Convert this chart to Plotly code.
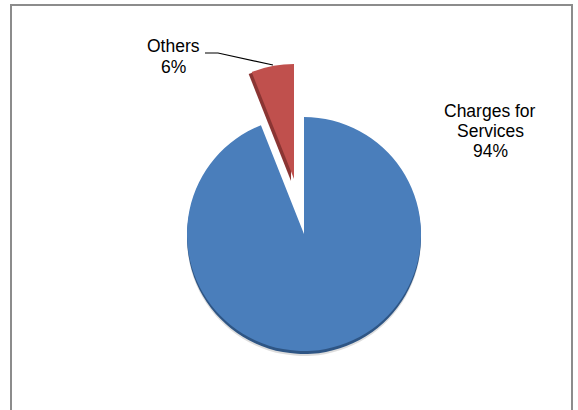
import plotly.graph_objects as go

# ---- data ----
categories = ["Charges for Services", "Others"]
label_lines = [["Charges for", "Services"], ["Others"]]
values = [94, 6]
colors = ["#4a7ebb", "#c0504d"]
shadow_colors = ["#2e5584", "#8a3533"]

W, H = 578, 410
total = sum(values)
pcts = [round(v / total * 100) for v in values]


def px_domain(cx, cy, r):
    return dict(x=[(cx - r) / W, (cx + r) / W],
                y=[1 - (cy + r) / H, 1 - (cy - r) / H])


def slice_trace(idx, cx, cy, r, col):
    cols = ["rgba(0,0,0,0)"] * len(values)
    cols[idx] = col
    return go.Pie(values=values, labels=categories, sort=False,
                  direction="clockwise", rotation=0,
                  marker=dict(colors=cols, line=dict(width=0)),
                  textinfo="none", hoverinfo="skip", showlegend=False,
                  domain=px_domain(cx, cy, r))


fig = go.Figure()
# main slice (blue) with 3D rim shadow
fig.add_trace(slice_trace(0, 304, 239, 117, "rgba(120,120,120,0.25)"))
fig.add_trace(slice_trace(0, 304, 237, 117, shadow_colors[0]))
fig.add_trace(slice_trace(0, 304, 234, 117, colors[0]))
# exploded slice (red) with side shadow
fig.add_trace(slice_trace(1, 291, 181, 115, shadow_colors[1]))
fig.add_trace(slice_trace(1, 294, 179, 115, colors[1]))

font = dict(family="Liberation Sans, Arial, sans-serif", size=17.5, color="#000000")

# data labels: (center x, first line y, line step) in pixels
label_pos = [(490, 111, 20), (173, 46, 21)]
for i, (cx, y0, step) in enumerate(label_pos):
    lines = label_lines[i] + [f"{pcts[i]}%"]
    for k, line in enumerate(lines):
        fig.add_annotation(x=cx / W, y=1 - (y0 + k * step) / H,
                           xref="paper", yref="paper", text=line,
                           showarrow=False, font=font,
                           xanchor="center", yanchor="middle")

def P(x, y):
    return f"{x / W},{1 - y / H}"

shapes = [
    # chart frame
    dict(type="path", xref="paper", yref="paper",
         path=f"M {P(11, 420)} L {P(11, 5)} L {P(572, 5)} L {P(572, 420)}",
         line=dict(color="#8c8c8c", width=2)),
    # leader line for Others
    dict(type="path", xref="paper", yref="paper",
         path=f"M {P(205, 53)} L {P(218, 53)} L {P(273, 65)}",
         line=dict(color="#000000", width=1.2)),
]

fig.update_layout(width=W, height=H, margin=dict(l=0, r=0, t=0, b=0),
                  paper_bgcolor="#ffffff", plot_bgcolor="#ffffff",
                  shapes=shapes)

fig.write_html("out.html", config={"displayModeBar": False},
               post_script="document.body.style.margin='0';document.body.style.padding='0';")
